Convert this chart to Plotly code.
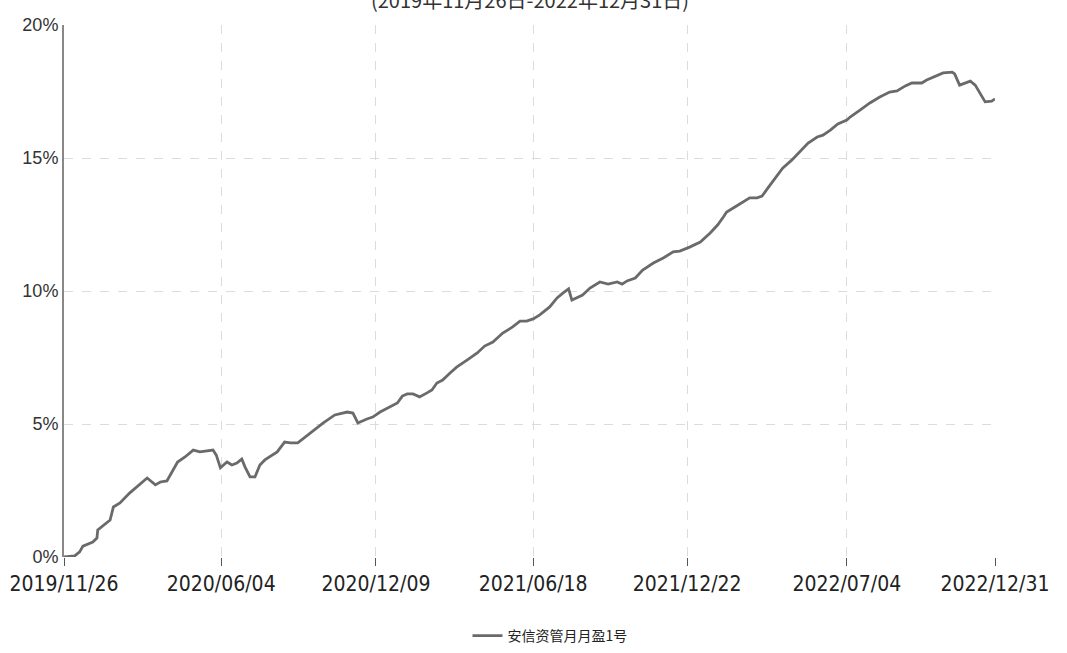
import pandas as pd
import plotly.graph_objects as go

# ---- data ----
start_date = "2019-11-26"
# days since start date for each read vertex
days_since_start = [0, 13, 19, 23, 35, 40, 41, 47, 56, 60, 68, 80, 92, 101, 111, 117, 125, 131, 138, 147,
                    157, 165, 174, 181, 185, 190, 198, 204, 210, 216, 220, 226, 232, 238, 244, 259, 268, 275,
                    284, 299, 315, 329, 344, 351, 357, 368, 375, 384, 396, 405, 411, 417, 424, 432, 441, 447,
                    453, 460, 469, 477, 490, 502, 511, 521, 533, 545, 554, 562, 570, 578, 590, 599, 606, 613,
                    617, 623, 630, 639, 651, 661, 672, 678, 684, 694, 703, 716, 728, 740, 748, 760, 773, 785,
                    794, 801, 805, 815, 825, 833, 842, 848, 855, 864, 873, 884, 894, 904, 915, 922, 931, 940,
                    951, 955, 967, 979, 991, 1003, 1012, 1022, 1030, 1042, 1048, 1058, 1068, 1079, 1082, 1088,
                    1095, 1101, 1107, 1113, 1119, 1127, 1131]
# cumulative return, %
cum_return = [0.00, 0.04, 0.19, 0.41, 0.56, 0.71, 1.02, 1.17, 1.39, 1.88, 2.03, 2.41, 2.71, 2.97, 2.71, 2.82,
              2.86, 3.20, 3.57, 3.76, 4.02, 3.95, 3.98, 4.02, 3.83, 3.35, 3.57, 3.46, 3.53, 3.68, 3.38, 3.01,
              3.01, 3.46, 3.65, 3.95, 4.32, 4.29, 4.29, 4.66, 5.04, 5.34, 5.45, 5.41, 5.04, 5.19, 5.26, 5.45,
              5.64, 5.79, 6.05, 6.13, 6.13, 6.02, 6.17, 6.28, 6.54, 6.65, 6.92, 7.14, 7.41, 7.67, 7.93, 8.08,
              8.42, 8.65, 8.87, 8.87, 8.95, 9.10, 9.40, 9.74, 9.92, 10.08, 9.66, 9.74, 9.85, 10.11, 10.34,
              10.26, 10.34, 10.26, 10.38, 10.49, 10.79, 11.05, 11.24, 11.47, 11.50, 11.65, 11.84, 12.18,
              12.48, 12.78, 12.97, 13.16, 13.35, 13.50, 13.50, 13.57, 13.87, 14.25, 14.62, 14.92, 15.23,
              15.56, 15.79, 15.86, 16.05, 16.28, 16.43, 16.54, 16.80, 17.07, 17.29, 17.48, 17.52, 17.71,
              17.82, 17.82, 17.93, 18.08, 18.20, 18.23, 18.16, 17.74, 17.82, 17.89, 17.74, 17.44, 17.11,
              17.14, 17.22]
series_name = "安信资管月月盈1号"
tick_dates = ["2019-11-26", "2020-06-04", "2020-12-09", "2021-06-18", "2021-12-22", "2022-07-04", "2022-12-31"]
tick_labels = ["2019/11/26", "2020/06/04", "2020/12/09", "2021/06/18", "2021/12/22", "2022/07/04", "2022/12/31"]
y_ticks = [0, 5, 10, 15, 20]
y_tick_labels = ["0%", "5%", "10%", "15%", "20%"]
subtitle = "(2019年11月26日-2022年12月31日)"

dates = pd.Timestamp(start_date) + pd.to_timedelta(days_since_start, unit="D")

fig = go.Figure()
fig.add_trace(go.Scatter(
    x=dates, y=cum_return, mode="lines", name=series_name,
    line=dict(color="#6a6a6a", width=2.8),
))

fig.update_layout(
    width=1067, height=653,
    margin=dict(l=64, r=72, t=25, b=96, autoexpand=False),
    paper_bgcolor="white", plot_bgcolor="white",
    showlegend=True,
    legend=dict(orientation="h", x=0.522, xanchor="center", y=-0.1485, yanchor="middle",
                font=dict(family="Noto Sans CJK SC", size=14, color="#222"),
                itemwidth=30),
    annotations=[dict(text=subtitle, xref="paper", yref="paper", x=0.5, y=1.048,
                      xanchor="center", yanchor="middle", showarrow=False,
                      font=dict(family="Noto Sans CJK SC", size=20, color="#333"))],
)

fig.update_xaxes(
    type="date",
    range=[tick_dates[0], tick_dates[-1]],
    tickvals=tick_dates, ticktext=tick_labels,
    showgrid=True, gridcolor="#dcdcdc", griddash="dash", gridwidth=1,
    showline=False, zeroline=False,
    ticks="outside", ticklen=8, tickcolor="#555", tickwidth=1,
    tickfont=dict(family="Liberation Sans Narrow, DejaVu Sans Condensed, sans-serif", size=21, color="#222"),
)
fig.update_yaxes(
    range=[0, 20],
    tickvals=y_ticks, ticktext=y_tick_labels,
    showgrid=True, gridcolor="#dcdcdc", griddash="dash", gridwidth=1,
    showline=True, linecolor="#888", linewidth=2,
    zeroline=False,
    ticks="",
    tickfont=dict(family="Liberation Sans, Arial, sans-serif", size=18, color="#333"),
)

fig.write_html("out.html", post_script="document.body.style.margin='0';",
               config={"displayModeBar": False})
